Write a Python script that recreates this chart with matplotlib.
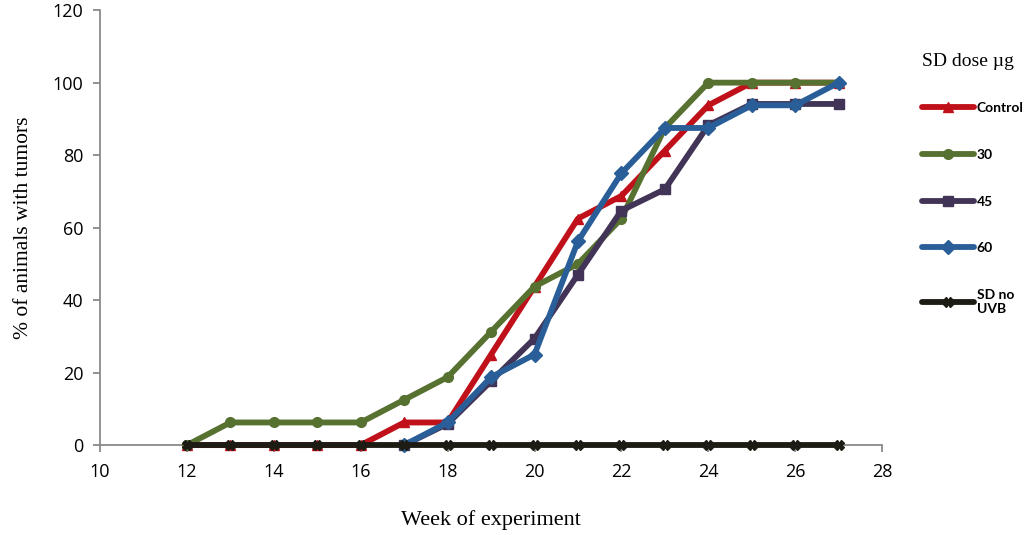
import matplotlib
matplotlib.use("Agg")
import matplotlib.pyplot as plt

weeks = [12, 13, 14, 15, 16, 17, 18, 19, 20, 21, 22, 23, 24, 25, 26, 27]
control = [0, 0, 0, 0, 0, 6.25, 6.25, 25, 43.75, 62.5, 68.75, 81.25, 93.75, 100, 100, 100]
dose30 = [0, 6.25, 6.25, 6.25, 6.25, 12.5, 18.75, 31.25, 43.75, 50, 62.5, 87.5, 100, 100, 100, 100]
dose45 = [None, None, None, None, None, 0, 5.88, 17.65, 29.41, 47.06, 64.71, 70.59, 88.24, 94.12, 94.12, 94.12]
dose60 = [None, None, None, None, None, 0, 6.25, 18.75, 25, 56.25, 75, 87.5, 87.5, 93.75, 93.75, 100]
no_uvb = [0, 0, 0, 0, 0, 0, 0, 0, 0, 0, 0, 0, 0, 0, 0, 0]

series = [
    ("Control", control, "#c0111a", "^"),
    ("30", dose30, "#567130", "o"),
    ("45", dose45, "#413456", "s"),
    ("60", dose60, "#2a5e98", "D"),
    ("SD no\nUVB", no_uvb, "#1c1c14", "X"),
]

fig = plt.figure(figsize=(10.24, 5.35), dpi=100)
ax = fig.add_axes([0.0977, 0.168, 0.7637, 0.813])

for i, (name, vals, col, mk) in enumerate(series):
    xs = [w for w, v in zip(weeks, vals) if v is not None]
    ys = [v for v in vals if v is not None]
    ax.plot(xs, ys, color=col, lw=4.2, marker=mk, ms=7, mfc=col, mec=col,
            label=name, solid_joinstyle="round", solid_capstyle="round",
            clip_on=False, zorder=3 + i)

ax.set_xlim(10, 28)
ax.set_ylim(0, 120)
ax.set_xticks(range(10, 29, 2))
ax.set_yticks(range(0, 121, 20))
for s in ["top", "right"]:
    ax.spines[s].set_visible(False)
for s in ["left", "bottom"]:
    ax.spines[s].set_color("#8a8a8a")
    ax.spines[s].set_linewidth(1.3)
    ax.spines[s].set_zorder(1)
ax.tick_params(axis="both", colors="#8a8a8a", length=5, width=1.3, labelcolor="black",
               labelsize=13)
for lab in ax.get_xticklabels() + ax.get_yticklabels():
    lab.set_family("Open Sans")
ax.tick_params(axis="x", pad=8)
ax.tick_params(axis="y", pad=7)

ax.set_xlabel("Week of experiment", family="Liberation Serif", fontsize=16, labelpad=21)
ax.set_ylabel("% of animals with tumors", family="Liberation Serif", fontsize=15.5, labelpad=14)

leg = ax.legend(loc="upper left", bbox_to_anchor=(1.035, 0.93), frameon=False,
                title="SD dose µg", handlelength=3.75, handletextpad=0.2,
                labelspacing=2.5, prop={"family": "Lato", "weight": "bold", "size": 10})
leg.get_title().set_family("Liberation Serif")
leg.get_title().set_fontsize(14)
leg._legend_box.align = "left"
leg._legend_box.sep = 23

fig.savefig("out.png", dpi=100)
